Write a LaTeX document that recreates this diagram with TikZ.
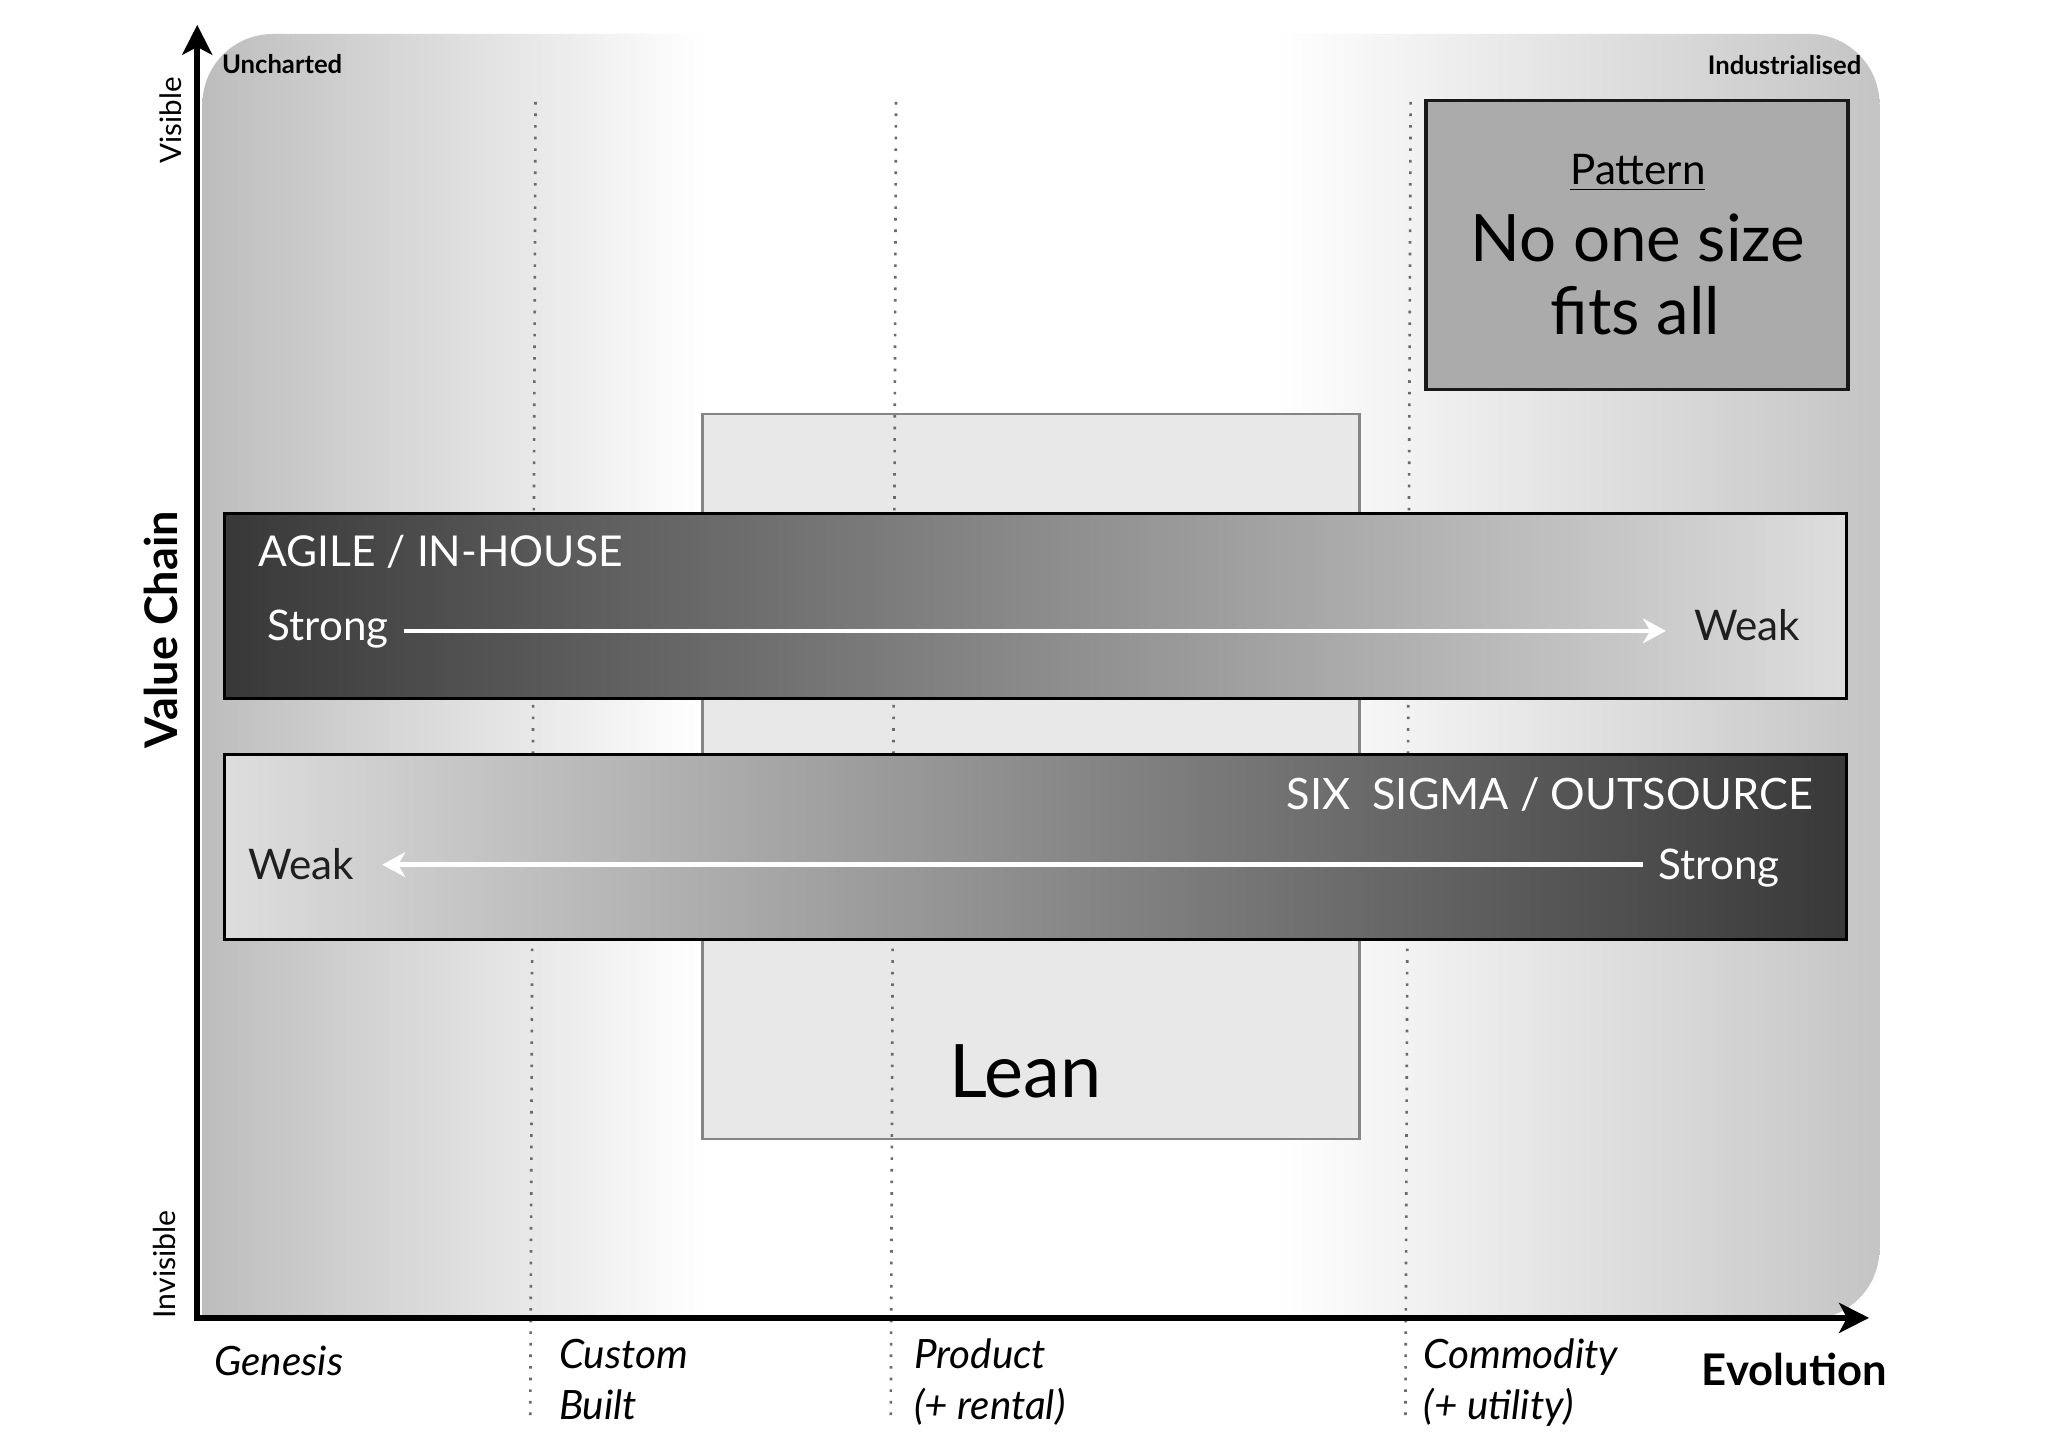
\documentclass[tikz,border=0pt]{standalone}
\usepackage{fontspec}
\setmainfont{Lato}
\usetikzlibrary{arrows.meta}
\definecolor{bgL}{gray}{0.74}
\definecolor{bgR}{gray}{0.77}
\definecolor{barDark}{gray}{0.22}
\definecolor{barLight}{gray}{0.87}
\definecolor{leanFill}{gray}{0.91}
\definecolor{leanLine}{gray}{0.52}
\definecolor{patFill}{gray}{0.67}
\definecolor{dotLine}{gray}{0.42}
\pgfdeclarehorizontalshading{bgshade}{100bp}{color(0bp)=(bgL); color(25bp)=(bgL); color(40bp)=(white); color(57bp)=(white); color(75bp)=(bgR); color(100bp)=(bgR)}
\newcommand{\fs}[1]{\fontsize{#1}{1.2\dimexpr#1\relax}\selectfont}
\tikzset{
  txt/.style={inner sep=0pt, outer sep=0pt},
  axisline/.style={line width=1.8pt, -{Stealth[length=8.5pt,width=8.5pt,inset=2.2pt]}},
  gridline/.style={dotLine, line width=0.75pt, dash pattern=on 0.75pt off 2.55pt},
  wharrow/.style={white, line width=1.3pt, -{Stealth[length=6.5pt,width=7pt,inset=2pt]}},
  bar/.style={draw=black, line width=0.8pt, minimum width=16.22cm, minimum height=1.85cm, inner sep=0pt},
}
\begin{document}
\begin{tikzpicture}[x=0.01306cm, y=-0.01306cm]
\useasboundingbox (0,0) rectangle (1568,1108);
\fill[white] (0,0) rectangle (1568,1108);

% background field (square bottom-left corner, the others rounded)
\begin{scope}
\clip[rounded corners=20] (155,26) rectangle (1439,1010) [sharp corners] (155,900) rectangle (300,1010);
\shade[shading=bgshade] (155,26) rectangle (1439,1010);
\end{scope}

% Lean box
\node[draw=leanLine, fill=leanFill, line width=0.8pt, minimum width=6.57cm, minimum height=7.25cm, inner sep=0pt] (lean) at (789.5,594.5) {};
\node[txt, anchor=base west] (leantxt) at (727,840) {\fs{21pt}Lean};

% dotted evolution stage lines
\coordinate (d1t) at (410,78);  \coordinate (d1b) at (406,1088);
\coordinate (d2t) at (686,78);  \coordinate (d2b) at (682,1090);
\coordinate (d3t) at (1080,78); \coordinate (d3b) at (1076,1090);
\draw[gridline] (d1t) -- (d1b);
\draw[gridline] (d2t) -- (d2b);
\draw[gridline] (d3t) -- (d3b);

% Agile bar
\node[bar, left color=barDark, right color=barLight] (agile) at (793,464) {};
\node[txt, anchor=base west, white] (agiletitle) at (198,434) {\fs{12.1pt}AGILE / IN-HOUSE};
\node[txt, anchor=base west, white] (strongA) at (205,490) {\fs{12pt}Strong};
\node[txt, anchor=base west, black!88] (weakA) at (1297,490) {\fs{12pt}Weak};
\coordinate (ayA) at (0,483);
\draw[wharrow, shorten <=4.5pt, shorten >=8pt] (strongA.east |- ayA) -- (weakA.west |- ayA);

% Six sigma bar
\node[bar, left color=barLight, right color=barDark] (six) at (793,648.5) {};
\node[txt, anchor=base east, white] (sixtitle) at (1388,620) {\fs{12.3pt}SIX\ \ SIGMA / OUTSOURCE};
\node[txt, anchor=base west, black!88] (weakB) at (190,673) {\fs{12pt}Weak};
\node[txt, anchor=base west, white] (strongB) at (1270,673) {\fs{12pt}Strong};
\coordinate (ayB) at (0,662);
\draw[wharrow, shorten <=4.5pt, shorten >=8pt] (strongB.west |- ayB) -- (weakB.east |- ayB);

% Pattern box
\node[draw=black!90, fill=patFill, line width=1pt, minimum width=4.22cm, minimum height=2.89cm, inner sep=0pt] (pattern) at (1253.5,187.5) {};
\node[txt, anchor=base] (pattitle) at (1254,141) {\fs{12pt}\underline{Pattern}};
\node[txt, anchor=base] (pat1) at (1254,200) {\fs{18.6pt}No one size};
\node[txt, anchor=base] (pat2) at (1252,256) {\fs{18.6pt}fits all};

% corner labels
\node[txt, anchor=base west] (uncharted) at (170,56) {\fs{7.3pt}\bfseries Uncharted};
\node[txt, anchor=base east] (industrial) at (1425,57) {\fs{7.3pt}\bfseries Industrialised};

% axes
\coordinate (origin) at (151,1009);
\coordinate (ytop) at (151,19);
\coordinate (xend) at (1431,1009);
\draw[axisline] (origin) -- (ytop);
\draw[axisline] ([xshift=-0.9pt]origin) -- (xend);

% axis labels
\node[txt, anchor=base, rotate=90] (visible) at (139,92) {\fs{8.4pt}Visible};
\node[txt, anchor=base, rotate=90] (invisible) at (134,968) {\fs{8.6pt}Invisible};
\node[txt, anchor=base, rotate=90] (valuechain) at (136,482) {\fs{12.8pt}\bfseries Value Chain};

\node[txt, anchor=base west] (genesis) at (164,1053) {\fs{11.5pt}\itshape Genesis};
\node[txt, anchor=base west] (custom) at (428,1048) {\fs{11.5pt}\itshape Custom};
\node[txt, anchor=base west] (built) at (428,1087) {\fs{11.5pt}\itshape Built};
\node[txt, anchor=base west] (product) at (700,1048) {\fs{11.5pt}\itshape Product};
\node[txt, anchor=base west] (rental) at (700,1087) {\fs{11.5pt}\itshape (+ rental)};
\node[txt, anchor=base west] (commodity) at (1090,1048) {\fs{11.5pt}\itshape Commodity};
\node[txt, anchor=base west] (utility) at (1090,1087) {\fs{11.5pt}\itshape (+ utility)};
\node[txt, anchor=base west] (evolution) at (1303,1061) {\fs{12.4pt}\bfseries Evolution};
\end{tikzpicture}
\end{document}
